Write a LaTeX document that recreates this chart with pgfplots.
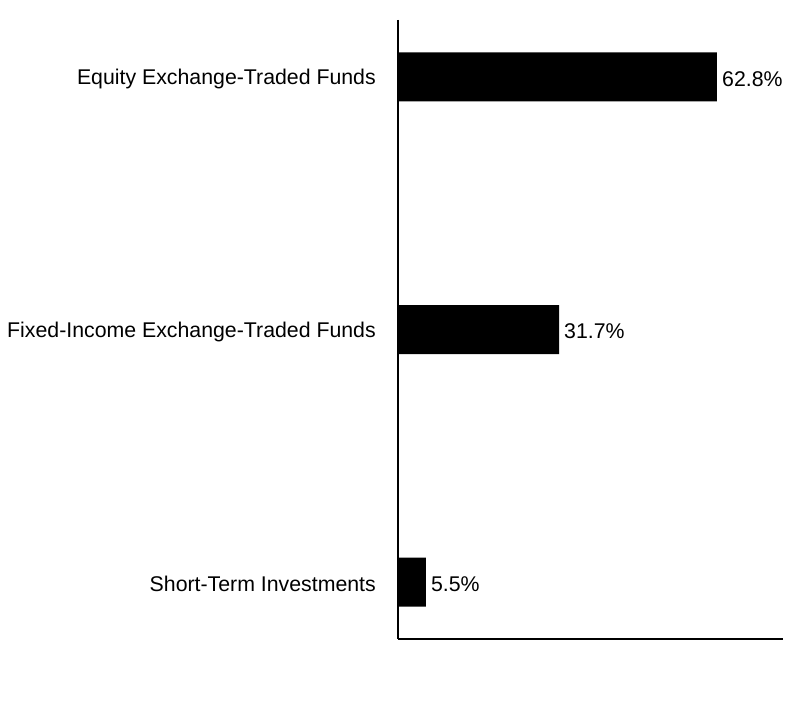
\documentclass[border=0pt]{standalone}
\usepackage{fontspec}
\setmainfont{Liberation Sans}
\usepackage{pgfplots}
\pgfplotsset{compat=1.18}
\begin{document}
\begin{tikzpicture}
\useasboundingbox (-398bp,-81bp) rectangle (406bp,639bp);
\begin{axis}[
    at={(0,0)}, anchor=south west,
    scale only axis,
    width=385bp, height=619bp,
    xbar, bar width=49bp,
    xmin=0, xmax=75.8,
    ymin=-0.225, ymax=2.225,
    y dir=reverse,
    axis x line*=bottom,
    axis y line*=left,
    axis line style={line width=1.5bp, black},
    xtick=\empty,
    ytick={0,1,2},
    yticklabels={Equity Exchange-Traded Funds, Fixed-Income Exchange-Traded Funds, Short-Term Investments},
    major tick length=0pt,
    yticklabel style={font=\fontsize{21.3bp}{25bp}\selectfont, inner sep=0pt, anchor=east, xshift=-22bp, yshift=-2bp},
    /pgf/number format/assume math mode=true,
    nodes near coords={\pgfmathprintnumber[fixed,fixed zerofill,precision=1]{\pgfplotspointmeta}\%},
    every node near coord/.append style={font=\fontsize{21.3bp}{25bp}\selectfont, inner sep=0pt, anchor=west, xshift=5bp, yshift=-2bp, black},
    clip=false]
  \addplot[fill=black, draw=none] coordinates {(62.8,0) (31.7,1) (5.5,2)};
\end{axis}
\end{tikzpicture}
\end{document}
